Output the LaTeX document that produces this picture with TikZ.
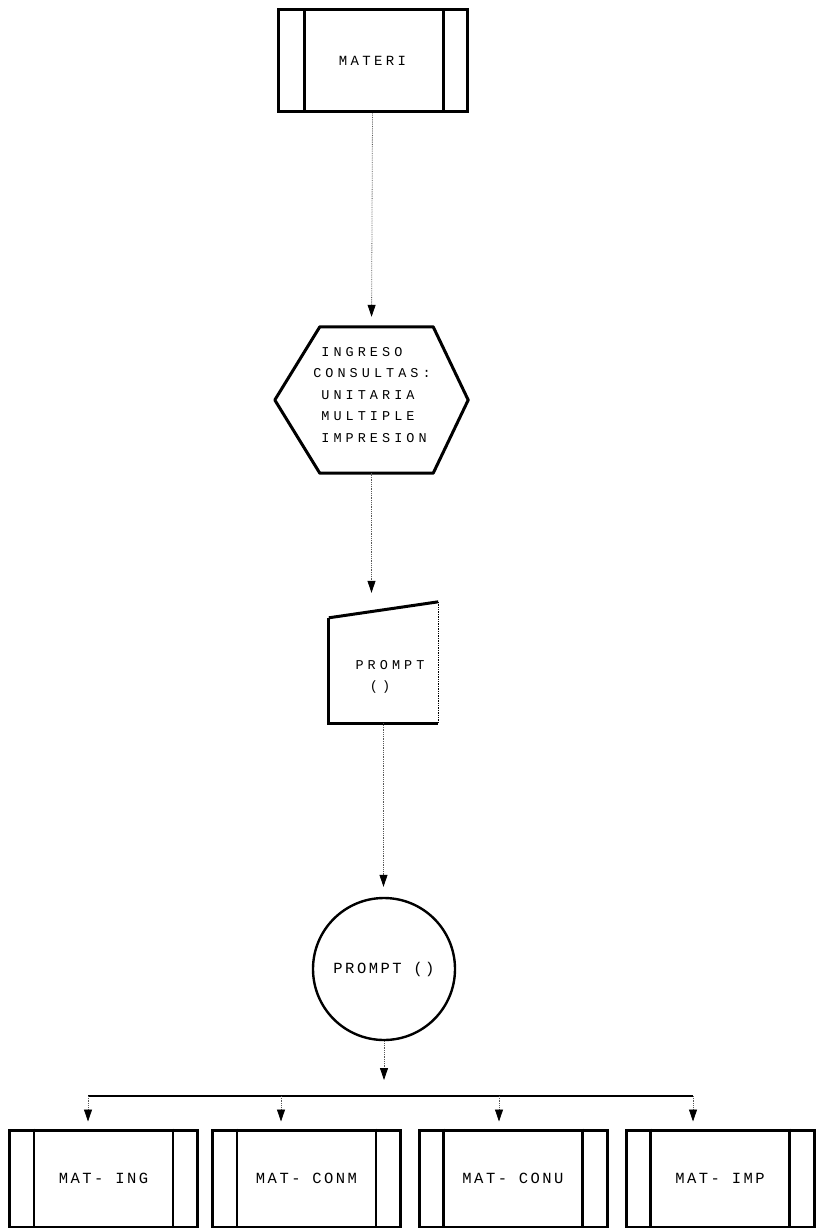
\documentclass[tikz,border=0pt]{standalone}
\usepackage{fontspec}
\usetikzlibrary{arrows.meta,calc}
\newfontfamily\hexfont[LetterSpace=30]{Liberation Mono}
\newfontfamily\matfont[LetterSpace=24]{Liberation Mono}
\newfontfamily\boxfont[LetterSpace=16]{Liberation Mono}
\tikzset{
  txt/.style={text=black, inner sep=0pt},
  subproc/.style={draw, line width=3pt, minimum width=188pt, minimum height=97pt, inner sep=0pt,
    font=\boxfont\fontsize{15.5}{18}\selectfont, text=black},
  ghost/.style={inner sep=0pt},
  heavy/.style={line width=3pt},
  conn/.style={densely dotted, line width=0.8pt, draw=black!65,
    -{Triangle[width=8pt,length=12pt,fill=black,color=black]}},
  hline/.style={line width=1.4pt, draw=black}
}
\begin{document}
\begin{tikzpicture}[x=1pt,y=-1pt]
\useasboundingbox (0,0) rectangle (815,1228);

% MATERI subprocess box
\node[subproc, minimum width=189pt, minimum height=102pt, font=\matfont\fontsize{14}{16}\selectfont] (mat) at (372.5,61) {MATERI};
\draw[line width=2.6pt] ($(mat.north west)+(28,0)$) -- ($(mat.south west)+(28,0)$);
\draw[line width=2.6pt] ($(mat.north east)+(-25,0)$) -- ($(mat.south east)+(-25,0)$);

% hexagon (preparation)
\node[ghost, minimum width=193pt, minimum height=146pt] (hex) at (371.5,400) {};
\draw[heavy, line join=round] (hex.west) -- ($(hex.north west)+(45,0)$) -- ($(hex.north east)+(-35,0)$)
   -- (hex.east) -- ($(hex.south east)+(-35,0)$) -- ($(hex.south west)+(45,0)$) -- cycle;
\node[txt, align=left, font=\hexfont\fontsize{13.5}{21.5}\selectfont] (hexlbl) at (372,395)
  {\hphantom{C}INGRESO\\CONSULTAS:\\\hphantom{C}UNITARIA\\\hphantom{C}MULTIPLE\\\hphantom{C}IMPRESION};

% manual input (PROMPT)
\node[ghost, minimum width=109pt, minimum height=121pt] (prm) at (383.5,662.5) {};
\draw[heavy] ($(prm.north west)+(0,16)$) -- (prm.north east);
\draw[heavy] ($(prm.north west)+(0,16)$) -- (prm.south west) -- (prm.south east);
\draw[densely dotted, line width=1.4pt] (prm.north east) -- (prm.south east);
\node[txt, font=\hexfont\fontsize{13.5}{16}\selectfont] (prmlbl) at (390,665) {PROMPT};
\node[txt, font=\hexfont\fontsize{13.5}{16}\selectfont] (prmlbl2) at (380,687) {()};

% circle
\node[draw, circle, line width=2.4pt, minimum size=142pt, inner sep=0pt,
      font=\boxfont\fontsize{15.5}{18}\selectfont, text=black] (cir) at (384,969) {PROMPT ()};

% bottom subprocess boxes
\node[subproc] (b1) at (103.5,1178.5) {MAT- ING};
\node[subproc] (b2) at (306.5,1178.5) {MAT- CONM};
\node[subproc] (b3) at (513,1178.5) {MAT- CONU};
\node[subproc] (b4) at (720,1178.5) {MAT- IMP};
\foreach \b in {b1,b2,b3,b4}{
  \draw[line width=2.6pt] ($(\b.north west)+(26,0)$) -- ($(\b.south west)+(26,0)$);
  \draw[line width=2.6pt] ($(\b.north east)+(-26,0)$) -- ($(\b.south east)+(-26,0)$);
}

% connectors
\draw[conn, shorten >=10pt] (mat.south) -- (hex.north);
\draw[conn, shorten >=9pt] (hex.south) -- (hex.south |- prm.north);
\draw[conn, shorten >=10pt] (prm.south) -- (prm.south |- cir.north);

\coordinate (t1) at (88,1096);
\coordinate (t2) at (281,1096);
\coordinate (t3) at (499,1096);
\coordinate (t4) at (693,1096);
\draw[conn, shorten >=16pt] (cir.south) -- (cir.south |- t1);
\draw[hline] (t1) -- (t4);
\draw[conn, shorten >=7pt] (t1) -- (t1 |- b1.north);
\draw[conn, shorten >=7pt] (t2) -- (t2 |- b2.north);
\draw[conn, shorten >=7pt] (t3) -- (t3 |- b3.north);
\draw[conn, shorten >=7pt] (t4) -- (t4 |- b4.north);
\end{tikzpicture}
\end{document}
